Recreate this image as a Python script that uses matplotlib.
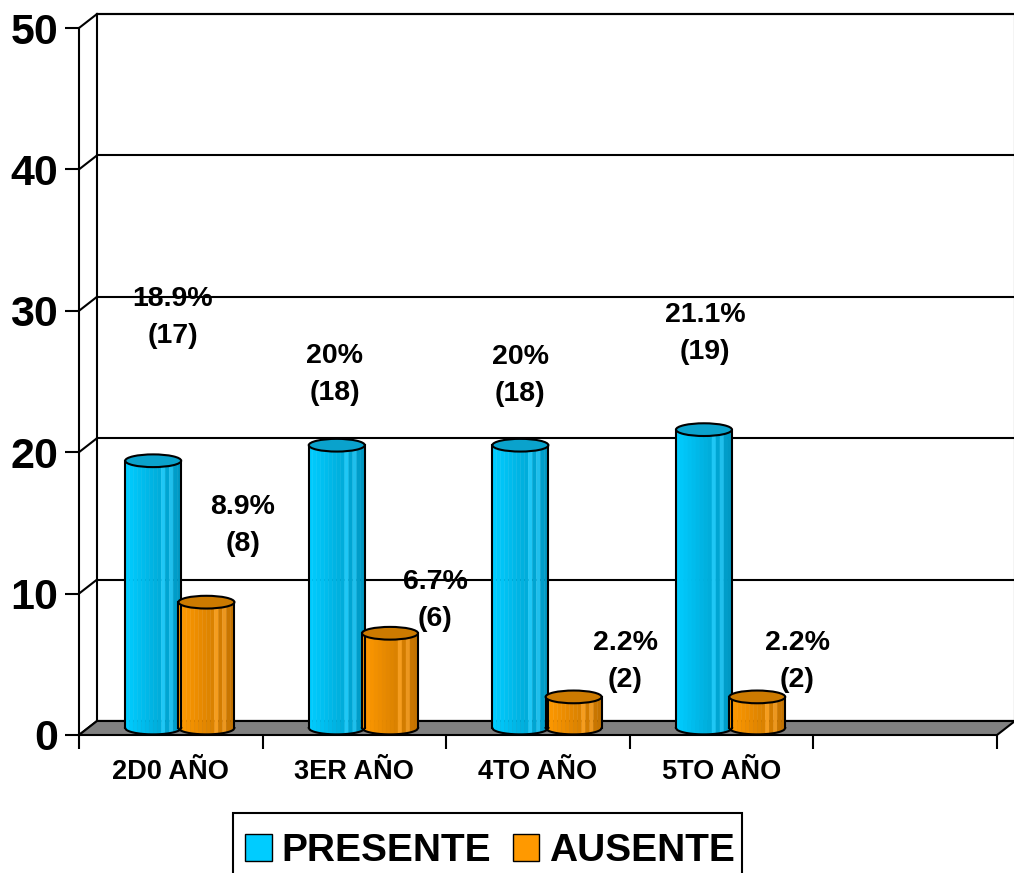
import numpy as np
import matplotlib.pyplot as plt
from matplotlib.patches import Ellipse, Patch, Polygon, Rectangle
from matplotlib.colors import to_rgb

plt.rcParams['font.family'] = ['Liberation Sans', 'DejaVu Sans']
plt.rcParams['font.weight'] = 'bold'

# datos
categorias = ["2D0 AÑO", "3ER AÑO", "4TO AÑO", "5TO AÑO"]
presente_pct = [18.9, 20, 20, 21.1]
presente_n = [17, 18, 18, 19]
ausente_pct = [8.9, 6.7, 2.2, 2.2]
ausente_n = [8, 6, 2, 2]

# desplazamiento de las etiquetas respecto al centro/tope de cada barra
off_presente = [(0.108, 10.6), (-0.01, 5.5), (0.0, 5.4), (0.006, 7.3)]
off_ausente = [(0.199, 5.9), (0.245, 2.8), (0.28, 3.0), (0.217, 3.0)]

n_slots = 5
ymax = 50
DX, DY = 0.098, 0.99   # profundidad 3D
W = 0.305              # ancho de barra
EH = 0.9               # alto de la elipse

fig = plt.figure(figsize=(10.14, 8.73), dpi=100)
ax = fig.add_axes([79 / 1014, 138 / 873, 918 / 1014, 707 / 873])
ax.set_xlim(0, n_slots)
ax.set_ylim(0, ymax)
for s in ['top', 'right', 'bottom']:
    ax.spines[s].set_visible(False)
ax.spines['left'].set_linewidth(1.5)
ax.spines['left'].set_zorder(6)

# pared del fondo
ax.add_patch(Polygon([(DX, DY), (n_slots + DX, DY), (n_slots + DX, ymax + DY), (DX, ymax + DY)],
                     closed=True, facecolor='white', edgecolor='black', lw=1.5, clip_on=False, zorder=1))
for v in range(0, ymax + 1, 10):
    ax.plot([DX, n_slots + DX], [v + DY, v + DY], color='black', lw=1.5, clip_on=False, zorder=1)
    ax.plot([0, DX], [v, v + DY], color='black', lw=1.5, clip_on=False, zorder=1)

# piso
ax.add_patch(Polygon([(0, 0), (n_slots, 0), (n_slots + DX, DY), (DX, DY)], closed=True,
                     facecolor='#808080', edgecolor='black', lw=1.5, clip_on=False, zorder=2))

# ejes
ax.set_yticks(range(0, ymax + 1, 10))
ax.tick_params(axis='y', length=10, width=1.5, pad=5, labelsize=31, direction='out')
ax.set_xticks(range(0, n_slots + 1))
ax.set_xticklabels([])
ax.tick_params(axis='x', which='major', length=10, width=1.5, direction='out')
ax.set_xticks(np.arange(len(categorias)) + 0.5, minor=True)
ax.set_xticklabels(categorias, minor=True)
ax.tick_params(axis='x', which='minor', length=0, pad=17, labelsize=19.5)
for lbl in ax.get_yticklabels() + ax.get_xticklabels(minor=True):
    lbl.set_fontweight('bold')


def cilindro(xc, valor, c_izq, c_der, c_top):
    base = DY / 2
    top = valor + DY / 2
    n = 14
    edges = np.linspace(xc - W / 2, xc + W / 2, n + 1)
    ci, cd = np.array(to_rgb(c_izq)), np.array(to_rgb(c_der))
    for k in range(n):
        t = k / (n - 1)
        col = ci + (cd - ci) * t
        if k in (9, 11):
            col = np.minimum(col + 0.12, 1)
        xs = np.linspace(edges[k], edges[k + 1], 6)
        u = (xs - xc) / (W / 2)
        yb = base - EH / 2 * np.sqrt(np.clip(1 - u ** 2, 0, 1))
        poly = [(edges[k], top), (edges[k + 1], top)] + list(zip(xs[::-1], yb[::-1]))
        ax.add_patch(Polygon(poly, closed=True, facecolor=col, edgecolor=col, lw=0.3, zorder=4))
    xs = np.linspace(xc - W / 2, xc + W / 2, 60)
    u = (xs - xc) / (W / 2)
    yb = base - EH / 2 * np.sqrt(np.clip(1 - u ** 2, 0, 1))
    ax.plot(xs, yb, color='black', lw=1.5, zorder=5)
    ax.plot([xc - W / 2, xc - W / 2], [base, top], color='black', lw=1.5, zorder=5)
    ax.plot([xc + W / 2, xc + W / 2], [base, top], color='black', lw=1.5, zorder=5)
    ax.add_patch(Ellipse((xc, top), W, EH, facecolor=c_top, edgecolor='black', lw=1.5, zorder=5))
    return xc, valor


for i in range(len(categorias)):
    centro = i + 0.5 + DX / 2
    xp, vp = cilindro(centro - 0.145, presente_pct[i], '#00CCFF', '#0099C4', '#0AA2CC')
    xa, va = cilindro(centro + 0.145, ausente_pct[i], '#FF9900', '#C47300', '#CC7A00')
    ax.text(xp + off_presente[i][0], vp + off_presente[i][1],
            f"{presente_pct[i]:g}%\n({presente_n[i]})",
            ha='center', va='center', fontsize=20.5, fontweight='bold', linespacing=1.55, zorder=7)
    ax.text(xa + off_ausente[i][0], va + off_ausente[i][1],
            f"{ausente_pct[i]:g}%\n({ausente_n[i]})",
            ha='center', va='center', fontsize=20.5, fontweight='bold', linespacing=1.55, zorder=7)

# leyenda (marco dibujado aparte, se corta en el borde inferior)
handles = [Patch(facecolor='#00CCFF', edgecolor='black', label='PRESENTE'),
           Patch(facecolor='#FF9900', edgecolor='black', label='AUSENTE')]
leg = fig.legend(handles=handles, loc='center', ncol=2,
                 bbox_to_anchor=(490 / 1014, 22 / 873),
                 prop={'size': 28, 'weight': 'bold'}, frameon=False,
                 handlelength=0.68, handleheight=0.72, handletextpad=0.25,
                 columnspacing=0.55, borderpad=0, borderaxespad=0)
fig.patches.append(Rectangle((233 / 1014, -0.02), 509 / 1014, 60 / 873 + 0.02,
                             transform=fig.transFigure, fill=False,
                             edgecolor='black', lw=1.5))

fig.savefig('out.png', dpi=100)
